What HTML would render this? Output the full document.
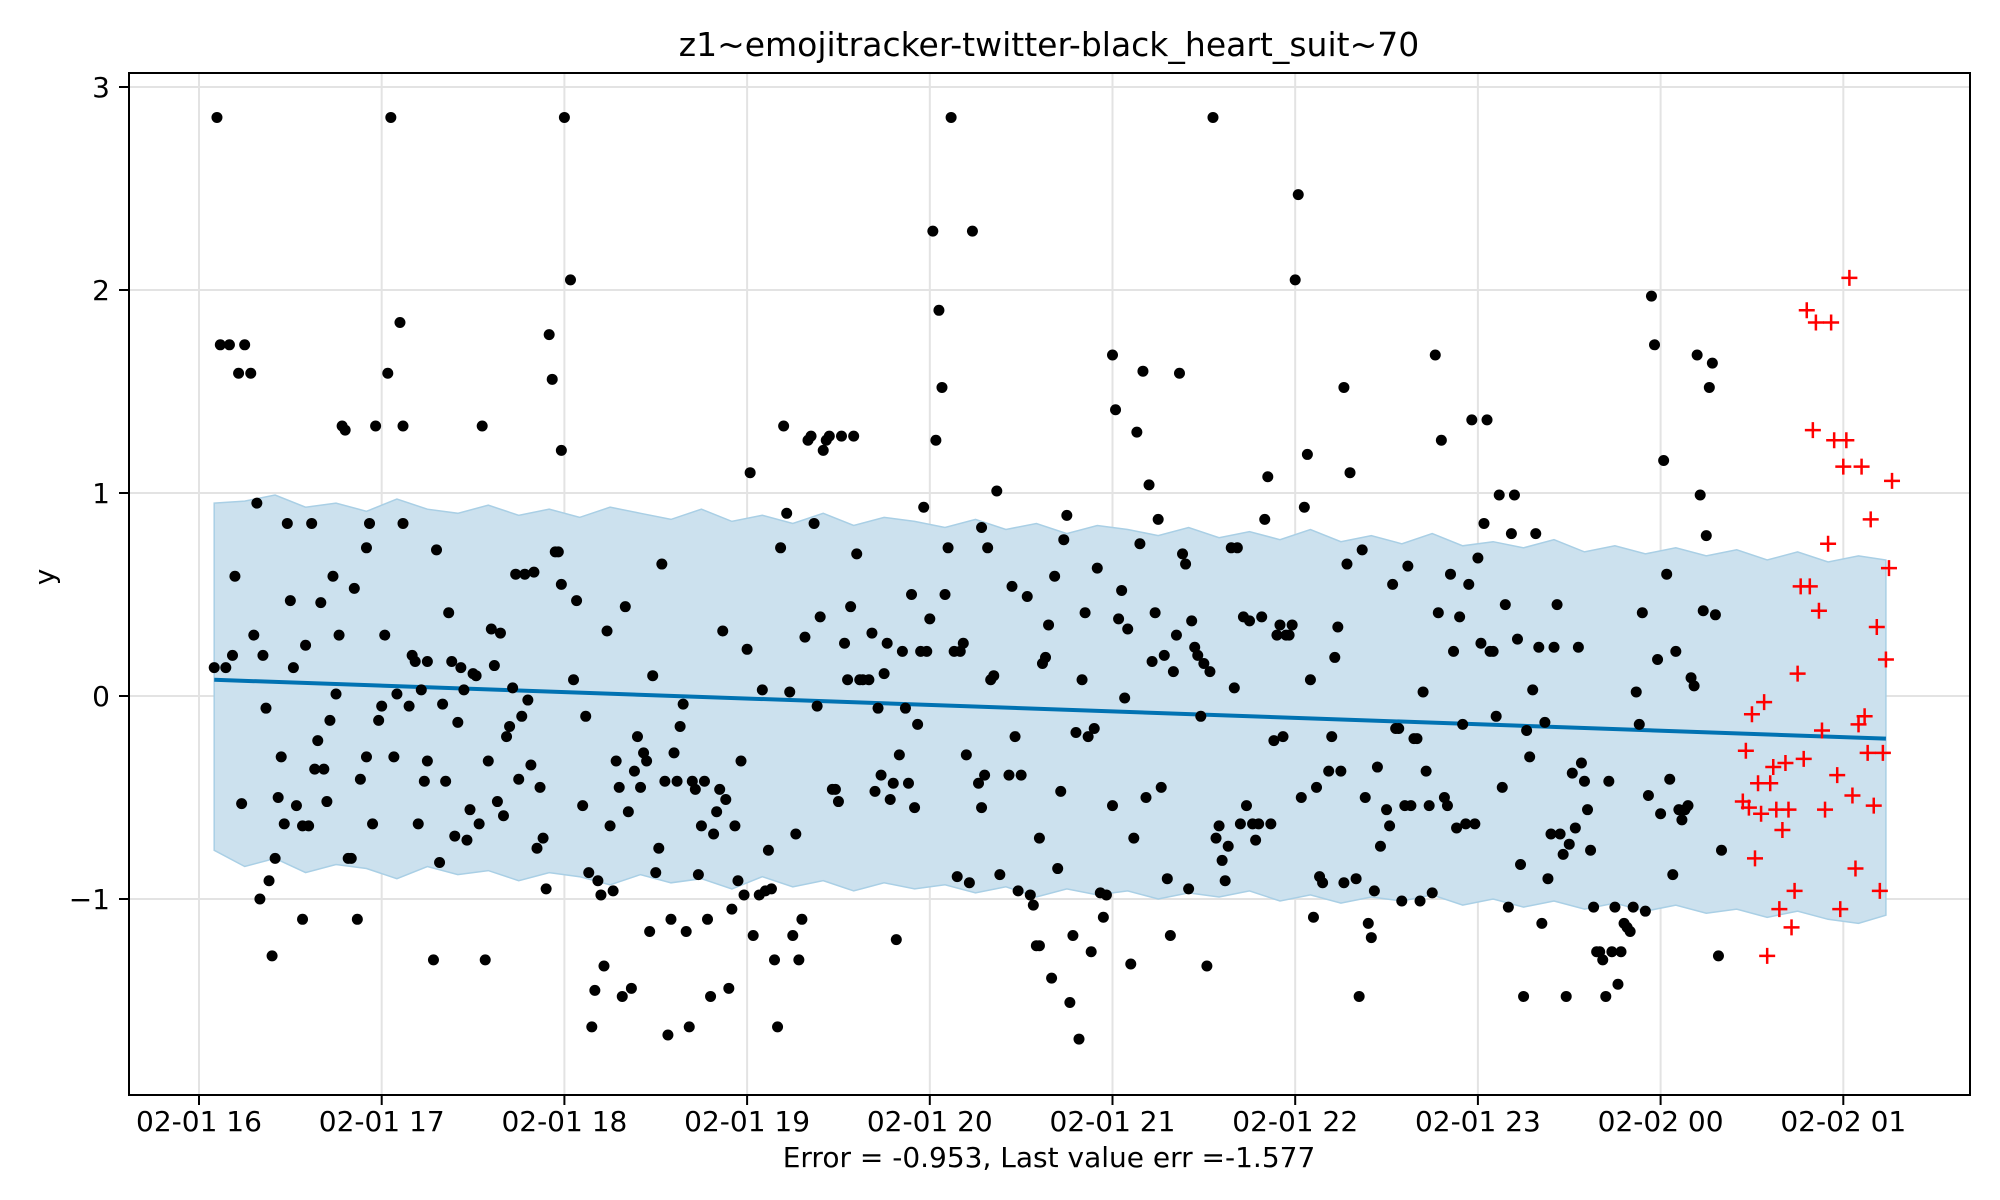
<!DOCTYPE html>
<html><head><meta charset="utf-8"><style>
html,body{margin:0;padding:0;background:#fff;}
svg{display:block;font-family:"DejaVu Sans","Liberation Sans",sans-serif;}
</style></head><body>
<svg id="chart" width="2000" height="1200" viewBox="0 0 2000 1200" xmlns="http://www.w3.org/2000/svg">
<rect width="2000" height="1200" fill="#fff"/>
<text x="1049" y="56" font-size="33" text-anchor="middle">z1~emojitracker-twitter-black_heart_suit~70</text>
<text x="1049" y="1167" font-size="28" text-anchor="middle">Error = -0.953, Last value err =-1.577</text>
<text x="54" y="577" font-size="28" text-anchor="middle" transform="rotate(-90 54 577)">y</text>
<g id="grid"></g>
<g id="band"></g>
<g id="trend"></g>
<g id="pts"></g>
<g id="fut"></g>
<rect x="129" y="73" width="1841" height="1022" fill="none" stroke="#000" stroke-width="2"/>
<g id="ticks"></g>
</svg>
<script>
// minutes since 02-01 16:00
const xTickLabels=["02-01 16","02-01 17","02-01 18","02-01 19","02-01 20","02-01 21","02-01 22","02-01 23","02-02 00","02-02 01"];
const xTickMinutes=[0,60,120,180,240,300,360,420,480,540];
const yTickValues=[-1,0,1,2,3];
const yTickLabels=["\u22121","0","1","2","3"];
const bandMinutes=[5,15,25,35,45,55,65,75,85,95,105,115,125,135,145,155,165,175,185,195,205,215,225,235,245,255,265,275,285,295,305,315,325,335,345,355,365,375,385,395,405,415,425,435,445,455,465,475,485,495,505,515,525,535,545,554];
const bandUpper=[0.95,0.96,0.99,0.93,0.95,0.91,0.97,0.92,0.90,0.94,0.89,0.92,0.88,0.93,0.90,0.87,0.92,0.86,0.89,0.85,0.90,0.84,0.88,0.86,0.83,0.87,0.82,0.85,0.80,0.84,0.82,0.79,0.83,0.78,0.81,0.77,0.82,0.76,0.79,0.75,0.80,0.74,0.76,0.73,0.77,0.71,0.74,0.70,0.73,0.69,0.72,0.67,0.71,0.66,0.69,0.67];
const bandLower=[-0.76,-0.84,-0.80,-0.87,-0.83,-0.85,-0.90,-0.84,-0.88,-0.86,-0.91,-0.87,-0.89,-0.93,-0.88,-0.92,-0.90,-0.95,-0.89,-0.94,-0.91,-0.96,-0.92,-0.95,-0.93,-0.97,-0.94,-0.99,-0.95,-0.98,-0.96,-1.00,-0.97,-0.99,-0.96,-1.01,-0.98,-1.02,-0.99,-1.01,-0.98,-1.03,-1.00,-1.04,-1.01,-1.05,-1.02,-1.06,-1.03,-1.07,-1.05,-1.09,-1.06,-1.10,-1.12,-1.08];
const trendMinutes=[5,554];
const trendValues=[0.08,-0.21];
const obsMinutes=[5.9,5,8.8,7,10,13,17,15,11.8,11,14,18,19,21,22,20,23,24,25,26,27,28,29,30,31,32,34,34,35,36,37,38,39,40,41,42,43,44,45,46,47,48,49,50,51,52,53,55,55,56,57,58,59,60,61,62,63,64,65,66,67,67,69,70,71,72,73,74,75,75,77,78,79,80,81,82,83,84,85,86,87,88,89,90,91,92,93,94,95,96,97,98,99,100,101,102,103,104,105,106,107,108,109,110,111,112,113,114,115,116,117,118,119,119,120,122,123,124,126,127,128,129,130,131,132,133,134,135,136,137,138,139,140,141,142,143,144,145,146,147,148,149,150,151,152,153,154,155,156,157,158,159,160,161,162,163,164,165,166,167,168,169,170,171,172,173,174,175,176,177,178,179,180,181,182,184,185,186,187,188,189,190,191,192,193,194,195,196,197,198,199,200,201,202,203,204,205,206,207,208,209,210,211,212,213,214,215,216,217,218,220,221,222,223,224,225,226,227,228,229,230,231,232,233,234,235,236,237,238,239,240,241,242,243,244,245,246,247,248,249,250,251,252,253,254,256,257,257,258,259,260,261,262,263,266,267,268,269,270,272,273,274,275,276,276,277,278,279,280,281,282,283,284,285,286,287,288,289,290,291,292,293,294,295,296,297,298,300,300,301,302,303,304,305,306,307,308,309,310,311,312,313,314,315,316,317,318,319,320,321,322,323,324,325,326,327,328,329,330,331,332,333,334,335,336,337,338,339,340,341,342,343,344,345,346,347,348,349,350,351,352,353,354,355,356,357,358,359,360,361,362,363,364,365,366,367,368,369,371,372,373,374,375,376,376,377,378,380,381,382,383,384,385,386,387,388,390,391,392,393,394,395,396,397,398,399,400,401,402,403,404,405,406,407,408,409,410,411,412,413,414,415,416,417,418,419,420,421,422,423,424,425,426,427,428,429,430,431,432,433,434,435,436,437,438,439,440,441,442,443,444,445,446,447,448,449,450,451,452,453,454,455,456,457,458,459,460,461,462,463,464,465,466,467,468,469,470,471,472,473,474,475,476,477,478,479,480,481,482,483,484,485,486,487,488,489,490,491,492,493,494,495,496,497,498,499,500];
const obsValues=[2.85,0.14,0.14,1.73,1.73,1.59,1.59,1.73,0.59,0.20,-0.53,0.30,0.95,0.20,-0.06,-1.0,-0.91,-1.28,-0.80,-0.50,-0.30,-0.63,0.85,0.47,0.14,-0.54,-0.64,-1.10,0.25,-0.64,0.85,-0.36,-0.22,0.46,-0.36,-0.52,-0.12,0.59,0.01,0.30,1.33,1.31,-0.80,-0.80,0.53,-1.10,-0.41,0.73,-0.30,0.85,-0.63,1.33,-0.12,-0.05,0.30,1.59,2.85,-0.30,0.01,1.84,1.33,0.85,-0.05,0.20,0.17,-0.63,0.03,-0.42,-0.32,0.17,-1.30,0.72,-0.82,-0.04,-0.42,0.41,0.17,-0.69,-0.13,0.14,0.03,-0.71,-0.56,0.11,0.10,-0.63,1.33,-1.30,-0.32,0.33,0.15,-0.52,0.31,-0.59,-0.20,-0.15,0.04,0.60,-0.41,-0.10,0.60,-0.02,-0.34,0.61,-0.75,-0.45,-0.70,-0.95,1.78,1.56,0.71,0.71,0.55,1.21,2.85,2.05,0.08,0.47,-0.54,-0.10,-0.87,-1.63,-1.45,-0.91,-0.98,-1.33,0.32,-0.64,-0.96,-0.32,-0.45,-1.48,0.44,-0.57,-1.44,-0.37,-0.20,-0.45,-0.28,-0.32,-1.16,0.10,-0.87,-0.75,0.65,-0.42,-1.67,-1.10,-0.28,-0.42,-0.15,-0.04,-1.16,-1.63,-0.42,-0.46,-0.88,-0.64,-0.42,-1.10,-1.48,-0.68,-0.57,-0.46,0.32,-0.51,-1.44,-1.05,-0.64,-0.91,-0.32,-0.98,0.23,1.10,-1.18,-0.98,0.03,-0.96,-0.76,-0.95,-1.30,-1.63,0.73,1.33,0.90,0.02,-1.18,-0.68,-1.30,-1.10,0.29,1.26,1.28,0.85,-0.05,0.39,1.21,1.26,1.28,-0.46,-0.46,-0.52,1.28,0.26,0.08,0.44,1.28,0.70,0.08,0.08,0.08,0.31,-0.47,-0.06,-0.39,0.11,0.26,-0.51,-0.43,-1.20,-0.29,0.22,-0.06,-0.43,0.50,-0.55,-0.14,0.22,0.93,0.22,0.38,2.29,1.26,1.90,1.52,0.50,0.73,2.85,0.22,-0.89,0.22,0.26,-0.29,-0.92,2.29,-0.43,0.83,-0.55,-0.39,0.73,0.08,0.10,1.01,-0.88,-0.39,0.54,-0.20,-0.96,-0.39,0.49,-0.98,-1.03,-1.23,-0.70,-1.23,0.16,0.19,0.35,-1.39,0.59,-0.85,-0.47,0.77,0.89,-1.51,-1.18,-0.18,-1.69,0.08,0.41,-0.20,-1.26,-0.16,0.63,-0.97,-1.09,-0.98,-0.54,1.68,1.41,0.38,0.52,-0.01,0.33,-1.32,-0.70,1.30,0.75,1.60,-0.50,1.04,0.17,0.41,0.87,-0.45,0.20,-0.90,-1.18,0.12,0.30,1.59,0.70,0.65,-0.95,0.37,0.24,0.20,-0.10,0.16,-1.33,0.12,2.85,-0.70,-0.64,-0.81,-0.91,-0.74,0.73,0.04,0.73,-0.63,0.39,-0.54,0.37,-0.63,-0.71,-0.63,0.39,0.87,1.08,-0.63,-0.22,0.30,0.35,-0.20,0.30,0.30,0.35,2.05,2.47,-0.50,0.93,1.19,0.08,-1.09,-0.45,-0.89,-0.92,-0.37,-0.20,0.19,0.34,-0.37,-0.92,1.52,0.65,1.10,-0.90,-1.48,0.72,-0.50,-1.12,-1.19,-0.96,-0.35,-0.74,-0.56,-0.64,0.55,-0.16,-0.16,-1.01,-0.54,0.64,-0.54,-0.21,-0.21,-1.01,0.02,-0.37,-0.54,-0.97,1.68,0.41,1.26,-0.50,-0.54,0.60,0.22,-0.65,0.39,-0.14,-0.63,0.55,1.36,-0.63,0.68,0.26,0.85,1.36,0.22,0.22,-0.10,0.99,-0.45,0.45,-1.04,0.80,0.99,0.28,-0.83,-1.48,-0.17,-0.30,0.03,0.80,0.24,-1.12,-0.13,-0.90,-0.68,0.24,0.45,-0.68,-0.78,-1.48,-0.73,-0.38,-0.65,0.24,-0.33,-0.42,-0.56,-0.76,-1.04,-1.26,-1.26,-1.30,-1.48,-0.42,-1.26,-1.04,-1.42,-1.26,-1.12,-1.14,-1.16,-1.04,0.02,-0.14,0.41,-1.06,-0.49,1.97,1.73,0.18,-0.58,1.16,0.60,-0.41,-0.88,0.22,-0.56,-0.61,-0.56,-0.54,0.09,0.05,1.68,0.99,0.42,0.79,1.52,1.64,0.40,-1.28,-0.76];
const futMinutes=[507,508,509,510,511,512,513,514,515,516,517,518,519,520,521,522,523,524,525,526,527,528,529,530,531,532,533,534,535,536,537,538,539,540,541,542,543,544,545,546,547,548,549,550,551,552,553,554,555,556];
const futValues=[-0.52,-0.27,-0.55,-0.09,-0.80,-0.43,-0.58,-0.03,-1.28,-0.43,-0.35,-0.56,-1.05,-0.66,-0.33,-0.56,-1.14,-0.96,0.11,0.54,-0.31,1.90,0.54,1.31,1.84,0.42,-0.17,-0.56,0.75,1.84,1.26,-0.39,-1.05,1.13,1.26,2.06,-0.49,-0.85,-0.14,1.13,-0.10,-0.28,0.87,-0.54,0.34,-0.96,-0.28,0.18,0.63,1.06];

const X0=199, PXMIN=3.045, Y0=696, PYU=203;
function xs(m){return X0+m*PXMIN;}
function ys(v){return Y0-v*PYU;}
const NS="http://www.w3.org/2000/svg";
function mk(tag,attrs,parent){const e=document.createElementNS(NS,tag);for(const k in attrs)e.setAttribute(k,attrs[k]);parent.appendChild(e);return e;}
const grid=document.getElementById('grid'),ticks=document.getElementById('ticks');
xTickMinutes.forEach((m,i)=>{
  const x=xs(m);
  const g=mk('line',{x1:x,x2:x,y1:73,y2:1095,stroke:'#e3e3e3','stroke-width':2},grid);
  
  
  const t=mk('line',{x1:x,x2:x,y1:1095,y2:1105,stroke:'#000','stroke-width':2},ticks);
  
  
  const l=mk('text',{x:x,y:1131,'font-size':28,'text-anchor':'middle'},ticks);
  l.textContent=xTickLabels[i];
  
  
});
yTickValues.forEach((v,i)=>{
  const y=ys(v);
  const g=mk('line',{x1:129,x2:1970,y1:y,y2:y,stroke:'#e3e3e3','stroke-width':2},grid);
  
  
  const t=mk('line',{x1:119,x2:129,y1:y,y2:y,stroke:'#000','stroke-width':2},ticks);
  
  
  const l=mk('text',{x:110,y:y+10,'font-size':28,'text-anchor':'end'},ticks);
  l.textContent=yTickLabels[i];
  
  
});
let d='';
bandMinutes.forEach((m,i)=>{d+=(i?'L':'M')+xs(m).toFixed(1)+' '+ys(bandUpper[i]).toFixed(1);});
for(let i=bandMinutes.length-1;i>=0;i--){d+='L'+xs(bandMinutes[i]).toFixed(1)+' '+ys(bandLower[i]).toFixed(1);}
const band=mk('path',{d:d+'Z',fill:'#cce1ee',stroke:'#a9cfe5','stroke-width':1.5},document.getElementById('band'));


const tr=mk('polyline',{points:trendMinutes.map((m,i)=>xs(m)+','+ys(trendValues[i])).join(' '),fill:'none',stroke:'#0072b2','stroke-width':4},document.getElementById('trend'));


const pts=document.getElementById('pts');
obsMinutes.forEach((m,i)=>{
  const c=mk('circle',{cx:xs(m),cy:ys(obsValues[i]),r:5.5,fill:'#000'},pts);
  
  
});
const fut=document.getElementById('fut');
futMinutes.forEach((m,i)=>{
  const x=xs(m),y=ys(futValues[i]);
  const p=mk('path',{d:`M${x-8} ${y}H${x+8}M${x} ${y-8}V${y+8}`,stroke:'#ff0000','stroke-width':2.5,fill:'none'},fut);
  
  
});
</script>
</body></html>
